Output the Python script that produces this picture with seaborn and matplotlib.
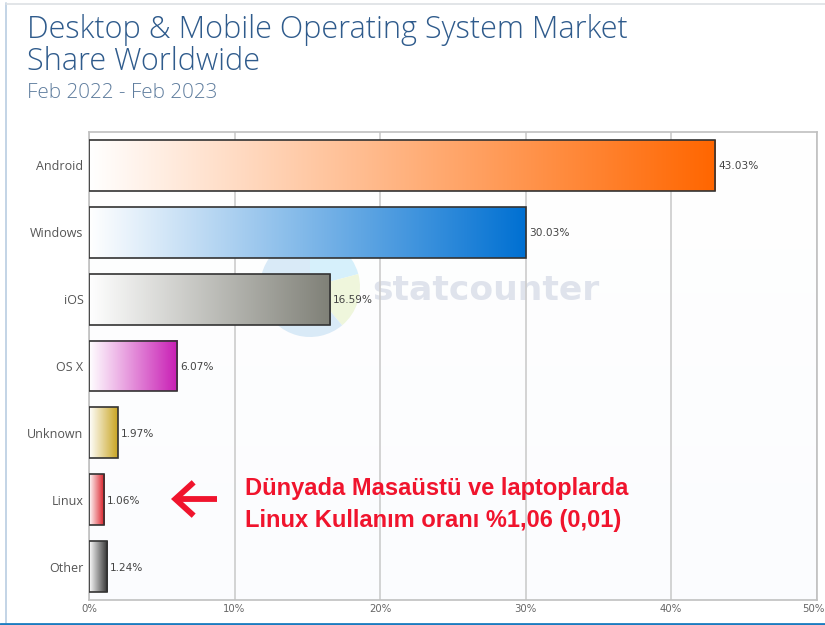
import numpy as np
import seaborn as sns
import matplotlib.pyplot as plt
from matplotlib.colors import LinearSegmentedColormap
from matplotlib.lines import Line2D
from matplotlib.transforms import ScaledTranslation

systems = ["Android", "Windows", "iOS", "OS X", "Unknown", "Linux", "Other"]
shares = [43.03, 30.03, 16.59, 6.07, 1.97, 1.06, 1.24]
end_colors = ["#ff6600", "#0070d2", "#7f8077", "#c81cb4", "#c9a522", "#d9141e", "#2e2e2e"]
x_ticks = [0, 10, 20, 30, 40, 50]
note_lines = ["Dünyada Masaüstü ve laptoplarda", "Linux Kullanım oranı %1,06 (0,01)"]
logo_parts = [75, 65, 220]
logo_colors = ["#d6f0fb", "#eff6dc", "#d9eaf7"]

W, H = 825, 625


def fx(px):
    return px / W


def fy(py):
    return 1 - py / H


sns.set_theme(style="white")
plt.rcParams["font.family"] = ["Open Sans", "DejaVu Sans"]

fig = plt.figure(figsize=(8.25, 6.25), dpi=100, facecolor="white")
pos = [fx(89), fy(600), fx(816.5) - fx(89), fy(132) - fy(600)]

# faint background behind the plot
bg = fig.add_axes(pos, zorder=0)
bg.imshow(np.linspace(0, 1, 64).reshape(-1, 1), aspect="auto",
          cmap=LinearSegmentedColormap.from_list("bg", ["#ffffff", "#fbfcfe"]))
bg.axis("off")

# statcounter watermark
r = 50
wm = fig.add_axes([fx(310 - r), fy(287 + r), 2 * r / W, 2 * r / H], zorder=1)
wm.pie(logo_parts, colors=logo_colors, startangle=90, counterclock=False, radius=1.0,
       wedgeprops=dict(linewidth=0))
wm.set_xlim(-1, 1)
wm.set_ylim(-1, 1)
wm.text(fx(372), fy(290), "statcounter", transform=fig.transFigure, ha="left", va="center",
        fontsize=24.8, fontweight="bold", color="#dfe3ec", family="DejaVu Sans", clip_on=False)

ax = fig.add_axes(pos, zorder=2)
ax.patch.set_visible(False)
sns.barplot(x=shares, y=systems, order=systems, width=0.76, color="white",
            edgecolor="#333333", linewidth=1.2, ax=ax, zorder=3)

for patch, end, share in zip(ax.patches, end_colors, shares):
    patch.set_facecolor("none")
    x0, y0, w, h = patch.get_x(), patch.get_y(), patch.get_width(), patch.get_height()
    cmap = LinearSegmentedColormap.from_list("g", ["#ffffff", end])
    ax.imshow(np.linspace(0, 1, 256).reshape(1, -1), extent=[x0, x0 + w, y0 + h, y0],
              aspect="auto", cmap=cmap, zorder=2)
    ax.text(share + 0.2, y0 + h / 2 + 0.015, f"{share:.2f}%", va="center", ha="left",
            fontsize=7.6, color="#444444", family="DejaVu Sans", zorder=4)

ax.set_xlim(0, 50)
ax.set_ylim(6.5, -0.5)
ax.set_aspect("auto")
ax.set_xticks(x_ticks)
ax.set_xticklabels([f"{t}%" for t in x_ticks], fontsize=7.3, color="#666666", family="DejaVu Sans")
ax.set_xlabel("")
ax.set_ylabel("")
ax.tick_params(axis="y", length=0, pad=4, labelsize=9, labelcolor="#555555")
ax.tick_params(axis="x", length=0, pad=3)
ax.grid(axis="x", color="#cccccc", linewidth=1.2, zorder=1)
ax.set_axisbelow(True)
for s in ax.spines.values():
    s.set_visible(True)
    s.set_color("#c0c0c0")
    s.set_linewidth(1.2)

# keep the last tick label inside the picture
last = ax.get_xticklabels()[-1]
last.set_transform(last.get_transform() + ScaledTranslation(-3 / 100, 0, fig.dpi_scale_trans))

# title block
fig.text(fx(27), fy(29.5), "Desktop & Mobile Operating System Market", fontsize=22.1,
         color="#2f5b8c", va="center", ha="left", fontweight="light")
fig.text(fx(27), fy(62.5), "Share Worldwide", fontsize=22.1, color="#2f5b8c", va="center", ha="left",
         fontweight="light")
fig.text(fx(27), fy(93), "Feb 2022 - Feb 2023", fontsize=14.9, color="#5f7d9e", va="center", ha="left",
         fontweight="light")

# red note
for line, py in zip(note_lines, [489, 520]):
    fig.text(fx(245), fy(py), line, fontsize=17, fontweight="bold", color="#f0142d",
             family="Liberation Sans", va="center", ha="left", zorder=5)
ax.annotate("", xy=(fx(171), fy(499)), xytext=(fx(217), fy(499)),
            xycoords="figure fraction", textcoords="figure fraction",
            arrowprops=dict(arrowstyle="->,head_length=1.1,head_width=1.0", color="#f0142d",
                            lw=4.2, shrinkA=0, shrinkB=0, capstyle="butt", joinstyle="miter"))

# page frame left from the screenshot
fig.add_artist(Line2D([fx(5.5), fx(5.5)], [fy(3), fy(623)], color="#b9cde2", lw=1.2))
fig.add_artist(Line2D([fx(5.5), 1], [fy(3.5), fy(3.5)], color="#dde0e4", lw=1.2))
fig.add_artist(Line2D([0, 1], [fy(624), fy(624)], color="#1b7cc0", lw=2))

fig.savefig("out.png", dpi=100)
